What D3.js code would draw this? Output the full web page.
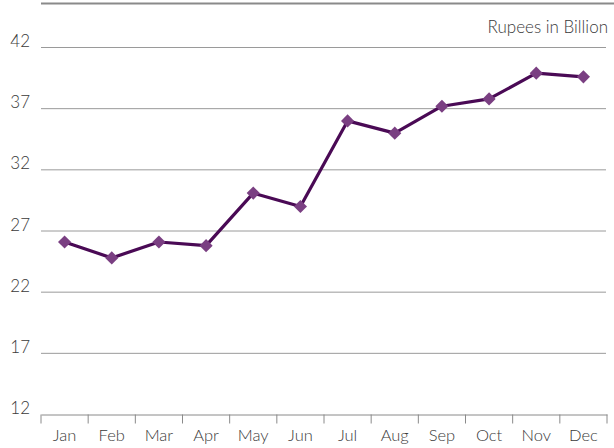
<!DOCTYPE html>
<html>
<head>
<meta charset="utf-8">
<script src="https://cdn.jsdelivr.net/npm/d3@7"></script>
<style>
body { margin: 0; background: #fff; }
text { font-family: "Lato", "Open Sans", sans-serif; font-weight: 300; fill: #3a3a3a; }
</style>
</head>
<body>
<div id="chart"></div>
<script>
// values
var months = ["Jan", "Feb", "Mar", "Apr", "May", "Jun", "Jul", "Aug", "Sep", "Oct", "Nov", "Dec"];
var rupees = [26.1, 24.8, 26.1, 25.8, 30.1, 29.0, 36.0, 35.0, 37.2, 37.8, 39.9, 39.6];
var yTicks = [12, 17, 22, 27, 32, 37, 42];

var W = 614, H = 448;
var svg = d3.select("#chart").append("svg").attr("width", W).attr("height", H);

var x = d3.scaleBand().domain(months).range([41, 607]);
var y = d3.scaleLinear().domain([12, 42]).range([414.5, 47.5]);

// top frame line
svg.append("line")
  .attr("x1", 41).attr("x2", 614).attr("y1", 3.5).attr("y2", 3.5)
  .attr("stroke", "#8a8a8a").attr("stroke-width", 2);

// grid lines
svg.append("g").selectAll("line").data(yTicks.slice(1)).enter().append("line")
  .attr("x1", 41).attr("x2", 606)
  .attr("y1", function(d) { return y(d); }).attr("y2", function(d) { return y(d); })
  .attr("stroke", "#9a9a9a").attr("stroke-width", 1);

// y labels
svg.append("g").selectAll("text").data(yTicks).enter().append("text")
  .attr("x", 30).attr("y", function(d) { return y(d) - 0.5; })
  .attr("text-anchor", "end")
  .style("font-size", "17px")
  .text(function(d) { return d; });

// x axis
var xAxis = d3.axisBottom(x).tickSize(0).tickPadding(15);
var gx = svg.append("g").attr("transform", "translate(0," + y(12) + ")").call(xAxis);
gx.select(".domain").attr("stroke", "#8a8a8a");
gx.selectAll("text").style("font-size", "16.5px").style("font-family", "Lato, sans-serif").style("font-weight", 300).attr("fill", "#3a3a3a");
gx.append("g").selectAll("line").data(d3.range(months.length + 1)).enter().append("line")
  .attr("x1", function(i) { return 41 + i * x.bandwidth(); })
  .attr("x2", function(i) { return 41 + i * x.bandwidth(); })
  .attr("y1", 0).attr("y2", 9)
  .attr("stroke", "#8a8a8a");

// unit label
svg.append("text").attr("x", 608).attr("y", 33).attr("text-anchor", "end")
  .style("font-size", "17px").text("Rupees in Billion");

// line
var line = d3.line()
  .x(function(d, i) { return x(months[i]) + x.bandwidth() / 2; })
  .y(function(d) { return y(d); });

svg.append("path").datum(rupees)
  .attr("d", line)
  .attr("fill", "none").attr("stroke", "#4a0a55").attr("stroke-width", 3.2)
  .attr("stroke-linejoin", "round");

// diamond markers
svg.append("g").selectAll("path").data(rupees).enter().append("path")
  .attr("d", d3.symbol().type(d3.symbolDiamond2).size(110))
  .attr("transform", function(d, i) {
    return "translate(" + (x(months[i]) + x.bandwidth() / 2) + "," + y(d) + ")";
  })
  .attr("fill", "#7a3f82");
</script>
</body>
</html>
